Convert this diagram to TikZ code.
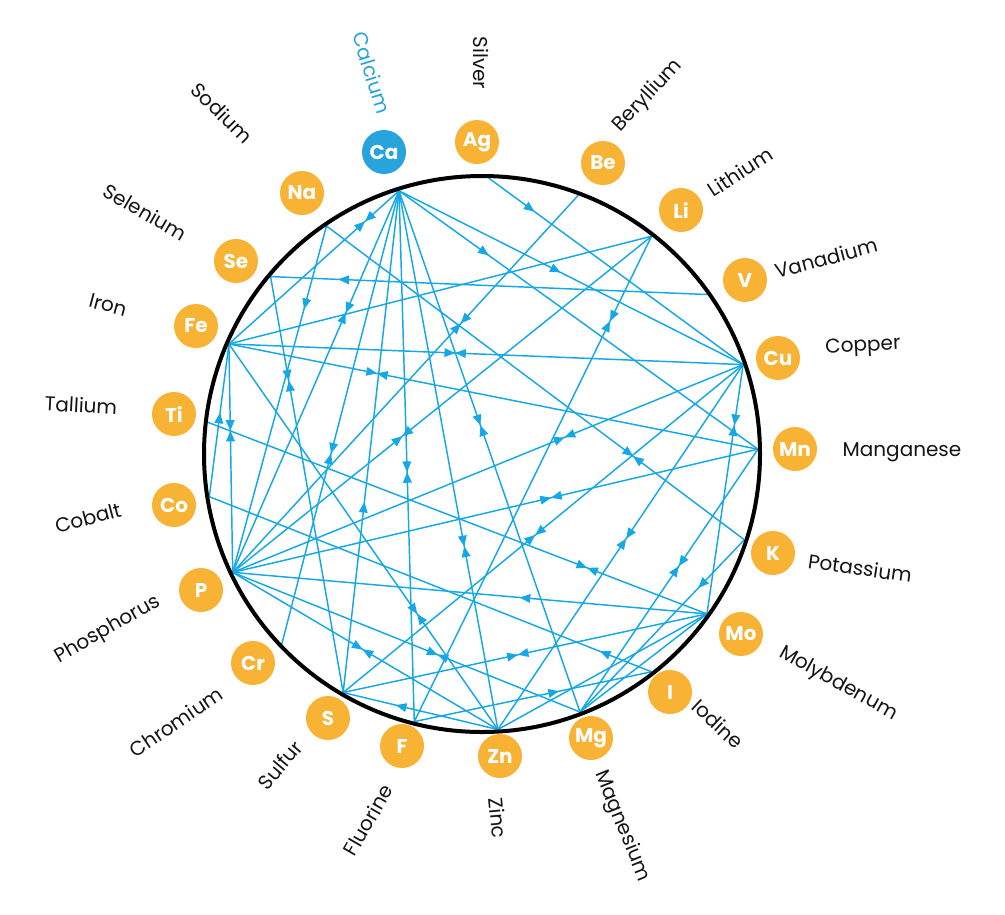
\documentclass[tikz,border=0pt]{standalone}
\usepackage{fontspec}
\setmainfont{Poppins}
\usetikzlibrary{arrows.meta,decorations.markings,calc}
\definecolor{lineblue}{RGB}{22,168,230}
\definecolor{cablue}{RGB}{40,163,220}
\definecolor{elorange}{RGB}{248,178,52}
\definecolor{labgray}{RGB}{20,20,20}
\tikzset{
  link/.style={draw=lineblue, color=lineblue, line width=1.1pt},
  fwd/.style={postaction={decorate},decoration={markings,
      mark=at position #1 with {\arrow{Triangle[length=8pt,width=6.5pt]}}}},
  bow/.style={postaction={decorate},decoration={markings,
      mark=at position #1 with {\arrow{Triangle[length=8pt,width=6.5pt]}\arrowreversed{Triangle[length=8pt,width=6.5pt]}}}},
  el/.style={circle, fill=elorange, minimum size=33pt, inner sep=0pt, text=white,
      font=\fontsize{15}{17}\selectfont\bfseries},
  lab/.style={text=labgray, font=\fontsize{15}{18}\selectfont, inner sep=0pt}
}
\begin{document}
\begin{tikzpicture}[x=0.75pt,y=0.75pt]
\useasboundingbox (0,0) rectangle (1005,-914);
\coordinate (O) at (482,-454);
\foreach \n/\a in {Ca/107.5, Ag/88.6, Be/69.6, Li/52.1, V/35.3, Cu/18.9, Mn/1.0,
  K/-18.1, Mo/-35.4, I/-52.1, Mg/-69.2, Zn/-86.7, F/-104.2, S/-120.2, Cr/-136.5,
  P/-154.6, Co/-171.1, Ti/173.4, Fe/156.5, Se/140.0, Na/124.3}
  \coordinate (\n) at ($(O)+(\a:276)$);

% connections
\draw[link,bow=0.20] (Ca)--(Fe);
\draw[link,bow=0.32] (Ca)--(P);
\draw[link,fwd=0.25] (Ca)--(Mn);
\draw[link,fwd=0.47] (Ca)--(Cu);
\draw[link,bow=0.53] (Ca)--(F);
\draw[link,bow=0.45] (Ca)--(Mg);
\draw[link,bow=0.66] (Ca)--(Zn);
\draw[link,bow=0.58] (Ca)--(Cr);
\draw[link,fwd=0.38] (S)--(Ca);
\draw[link,fwd=0.18] (Ag)--(Cu);
\draw[link,bow=0.34] (Be)--(P);
\draw[link] (Li)--(Fe);
\draw[link,bow=0.175] (Li)--(F);
\draw[link,bow=0.595] (Li)--(P);
\draw[link,fwd=0.845] (V)--(Se);
\draw[link,fwd=0.24] (Na)--(P);
\draw[link,bow=0.734] (Na)--(K);
\draw[link,bow=0.25] (Se)--(S);
\draw[link,bow=0.44] (Fe)--(Cu);
\draw[link,bow=0.28] (Fe)--(Mn);
\draw[link,bow=0.38] (Fe)--(P);
\draw[link,bow=0.70] (Fe)--(Zn);
\draw[link,fwd=0.55] (Co)--(Fe);
\draw[link,bow=0.76] (Ti)--(Mo);
\draw[link,fwd=0.117] (I)--(Co);
\draw[link,bow=0.59] (P)--(Mg);
\draw[link,bow=0.49] (P)--(Zn);
\draw[link,fwd=0.395] (Mo)--(P);
\draw[link,bow=0.48] (S)--(Mo);
\draw[link,fwd=0.61] (F)--(I);
\draw[link,fwd=0.66] (Zn)--(S);
\draw[link,bow=0.477] (Cu)--(Zn);
\draw[link,bow=0.35] (Cu)--(P);
\draw[link,bow=0.52] (Cu)--(S);
\draw[link,bow=0.606] (P)--(Mn);
\draw[link,bow=0.243] (Cu)--(Mo);
\draw[link,bow=0.445] (Mn)--(Mg);
\draw[link,fwd=0.28] (K)--(Mg);
\draw[link] (Mg)--(Mo);
\draw[link] (Zn)--(Mo);

% main circle
\draw[line width=3pt] (O) circle (278);

% element nodes
\node[el, fill=cablue] (eCa) at (384,-152) {Ca};
\node[el] (eAg) at (477,-142) {Ag};
\node[el] (eBe) at (603,-163) {Be};
\node[el] (eLi) at (681,-210) {Li};
\node[el] (eV) at (745,-280) {V};
\node[el] (eCu) at (778,-358) {Cu};
\node[el] (eMn) at (795,-449) {Mn};
\node[el] (eK) at (773,-553) {K};
\node[el] (eMo) at (741,-634) {Mo};
\node[el] (eI) at (670,-692) {I};
\node[el] (eMg) at (591,-738) {Mg};
\node[el] (eZn) at (500,-756) {Zn};
\node[el] (eF) at (402,-746) {F};
\node[el] (eS) at (328,-718) {S};
\node[el] (eCr) at (253,-663) {Cr};
\node[el] (eP) at (201,-590) {P};
\node[el] (eCo) at (174,-505) {Co};
\node[el] (eTi) at (174,-414) {Ti};
\node[el] (eFe) at (196,-326) {Fe};
\node[el] (eSe) at (236,-261) {Se};
\node[el] (eNa) at (302,-193) {Na};

% labels
\node[lab, text=cablue, rotate=-73] (tCa) at (372,-73) {Calcium};
\node[lab, rotate=-90] (tAg) at (481,-63) {Silver};
\node[lab, rotate=47] (tBe) at (648,-96) {Beryllium};
\node[lab, rotate=33] (tLi) at (740,-172) {Lithium};
\node[lab, rotate=15] (tV) at (826,-258) {Vanadium};
\node[lab, rotate=3] (tCu) at (863,-347) {Copper};
\node[lab] (tMn) at (902,-452) {Manganese};
\node[lab, rotate=-8] (tK) at (860,-568) {Potassium};
\node[lab, rotate=-29] (tMo) at (838,-684) {Molybdenum};
\node[lab, rotate=-43] (tI) at (718,-724) {Iodine};
\node[lab, rotate=-68] (tMg) at (622,-826) {Magnesium};
\node[lab, rotate=-85] (tZn) at (498,-818) {Zinc};
\node[lab, rotate=60] (tF) at (368,-820) {Fluorine};
\node[lab, rotate=50] (tS) at (280,-765) {Sulfur};
\node[lab, rotate=34] (tCr) at (176,-722) {Chromium};
\node[lab, rotate=30] (tP) at (108,-630) {Phosphorus};
\node[lab, rotate=15] (tCo) at (88,-518) {Cobalt};
\node[lab, rotate=-3] (tTi) at (81,-405) {Tallium};
\node[lab, rotate=-15] (tFe) at (108,-305) {Iron};
\node[lab, rotate=-30] (tSe) at (145,-212) {Selenium};
\node[lab, rotate=-45] (tNa) at (222,-113) {Sodium};
\end{tikzpicture}
\end{document}
